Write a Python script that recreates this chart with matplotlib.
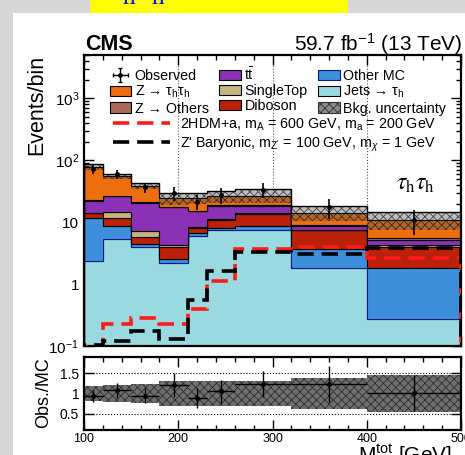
import numpy as np
import matplotlib
matplotlib.use("Agg")
import matplotlib.pyplot as plt
import matplotlib.ticker as ticker
from matplotlib.patches import Patch, Rectangle
from matplotlib.lines import Line2D

plt.rcParams["font.family"] = ["Liberation Sans", "DejaVu Sans"]
plt.rcParams["mathtext.fontset"] = "custom"
plt.rcParams["mathtext.rm"] = "Liberation Sans"
plt.rcParams["mathtext.it"] = "Liberation Sans:italic"
plt.rcParams["mathtext.bf"] = "Liberation Sans:bold"
plt.rcParams["hatch.linewidth"] = 0.6

# binning in M_tot [GeV]
bin_edges = [100, 120, 150, 180, 210, 230, 260, 320, 400, 500]

# background contributions per bin (stacked bottom -> top)
jets_tau = [2.35, 5.3, 4.0, 2.15, 5.9, 7.4, 7.4, 1.79, 0.27]
other_mc = [9.15, 3.4, 0.5, 0.35, 0.8, 0.7, 1.2, 1.88, 1.52]
diboson = [2.3, 2.8, 1.2, 1.4, 1.2, 2.7, 4.7, 3.73, 2.21]
single_top = [0.4, 3.2, 1.5, 0.35, 0.5, 0.4, 0.5, 0.2, 0.2]
ttbar = [7.8, 11.3, 13.5, 13.05, 6.6, 6.9, 4.3, 1.0, 1.0]
z_others = [0.8, 0.8, 0.6, 0.5, 0.4, 0.5, 0.5, 0.3, 0.25]
z_tautau = [54.8, 28.1, 17.3, 6.7, 8.8, 7.5, 8.3, 5.4, 5.45]

# relative background uncertainty (main panel / ratio panel)
bkg_unc = [0.111, 0.11, 0.128, 0.214, 0.2, 0.21, 0.255, 0.27, 0.315]
ratio_unc = [0.175, 0.2, 0.245, 0.3, 0.3, 0.3, 0.3, 0.375, 0.445]

observed = [72, 59, 36.5, 29.5, 21.5, 27.5, 33.5, 17.7, 11.0]
observed_err = [11.6, 9.9, 6.9, 7.4, 6.0, 7.6, 8.6, 6.3, 4.8]

# signal hypotheses
sig_2hdma = [0.095, 0.226, 0.286, 0.23, 0.39, 1.13, 3.67, 4.0, 2.6]
sig_zprime = [0.105, 0.12, 0.175, 0.128, 0.55, 1.64, 3.24, 3.05, 3.76]

components = [
    (jets_tau, "#98dadf", "black", "Jets → τ$_\\mathregular{h}$"),
    (other_mc, "#3d8fdc", "#0a1a8c", "Other MC"),
    (diboson, "#ba2108", "black", "Diboson"),
    (single_top, "#c6b47f", "black", "SingleTop"),
    (ttbar, "#8a31b6", "black", r"t$\bar{\mathregular{t}}$"),
    (z_others, "#a96b57", "black", "Z → Others"),
    (z_tautau, "#ec6e0c", "black", "Z → τ$_\\mathregular{h}$τ$_\\mathregular{h}$"),
]

edges = np.array(bin_edges, dtype=float)
centers = 0.5 * (edges[1:] + edges[:-1])
half_w = 0.5 * np.diff(edges)

W, H = 465, 455
fig = plt.figure(figsize=(W / 100, H / 100), dpi=100)
fig.patch.set_facecolor("#d6d6d6")
fig.add_artist(Rectangle((13 / W, 0), 1, 1 - 12.7 / H, transform=fig.transFigure,
                         facecolor="white", edgecolor="none", zorder=0))
fig.add_artist(Rectangle((90 / W, 1 - 12.7 / H), (348 - 90) / W, 12.7 / H,
                         transform=fig.transFigure, facecolor="#ffff00",
                         edgecolor="none", zorder=0))
fig.text(108 / W, 1 - 8 / H, r"$\tau_\mathrm{h}\tau_\mathrm{h}$", color="#1010e0",
         fontsize=26, va="bottom", ha="left", math_fontfamily="stix")

ax = fig.add_axes([84 / W, 1 - 346 / H, (461 - 84) / W, (346 - 55) / H])
rax = fig.add_axes([84 / W, 1 - 430 / H, (461 - 84) / W, (430 - 357) / H])

# stacked backgrounds
base = np.full(len(centers), 1e-3)
handles = {}
for vals, fc, ec, lab in components:
    top = base + np.array(vals)
    ax.stairs(top, edges, baseline=base, fill=True, facecolor=fc,
              edgecolor=ec, linewidth=0.8, zorder=2)
    handles[lab] = Patch(facecolor=fc, edgecolor=ec, linewidth=0.8, label=lab)
    base = top
total = base

unc = np.array(bkg_unc)
ax.stairs(total * (1 + unc), edges, baseline=total * (1 - unc), fill=True,
          facecolor=(0.35, 0.35, 0.35, 0.4), edgecolor=(0.1, 0.1, 0.1, 0.75),
          hatch="xxxx", linewidth=0, zorder=3)
ax.stairs(total * (1 + unc), edges, color="black", linewidth=1.0, zorder=3)
ax.stairs(total, edges, color="black", linewidth=0.6, zorder=3)

# signals
ax.stairs(sig_2hdma, edges, color="#ff1a1a", linewidth=2.6,
          linestyle=(0, (4.5, 2.2)), zorder=4)
ax.stairs(sig_zprime, edges, color="black", linewidth=2.6,
          linestyle=(0, (4.5, 2.2)), zorder=4)

ax.errorbar(centers, observed, yerr=observed_err, fmt="o", color="black",
            markersize=2.5, elinewidth=1.2, capsize=0, zorder=5)
obs_handle = ax.errorbar([np.nan], [np.nan], xerr=[1], yerr=[1], fmt="o",
                         color="black", markersize=2.5, elinewidth=1.0,
                         capsize=1.5)

ax.set_yscale("log")
ax.set_xlim(100, 500)
ax.set_ylim(0.1, 5000)
ax.set_yticks([0.1, 1, 10, 100, 1000])
ax.set_yticklabels(["10$^{-1}$", "1", "10", "10$^{2}$", "10$^{3}$"], fontsize=11)
ax.yaxis.set_minor_locator(ticker.LogLocator(base=10, subs=np.arange(2, 10)))
ax.yaxis.set_minor_formatter(ticker.NullFormatter())
ax.xaxis.set_major_locator(ticker.MultipleLocator(100))
ax.xaxis.set_minor_locator(ticker.MultipleLocator(20))
ax.tick_params(axis="x", labelbottom=False)
ax.set_axisbelow(True)
ax.xaxis.grid(True, which="major", linestyle=":", color="#555555", linewidth=0.8)

for a in (ax, rax):
    a.tick_params(which="both", direction="in", top=True, right=True, width=1.0)
    a.tick_params(which="major", length=7)
    a.tick_params(which="minor", length=3.5)
    for s in a.spines.values():
        s.set_linewidth(1.6)

# legends
order = [(obs_handle, "Observed"),
         (handles[components[6][3]], components[6][3]),
         (handles[components[5][3]], components[5][3]),
         (handles[components[4][3]], components[4][3]),
         (handles[components[3][3]], components[3][3]),
         (handles[components[2][3]], components[2][3]),
         (handles[components[1][3]], components[1][3]),
         (handles[components[0][3]], components[0][3]),
         (Patch(facecolor="#8a8a8a", edgecolor="#333333", hatch="xxxx",
                linewidth=0.8), "Bkg. uncertainty")]
leg1 = ax.legend([h for h, _ in order], [l for _, l in order], ncol=3,
                 loc="upper left", bbox_to_anchor=(0.068, 0.962), frameon=False,
                 fontsize=10.3, borderpad=0, borderaxespad=0, handlelength=1.5,
                 handleheight=0.7, handletextpad=0.25, columnspacing=0.75,
                 labelspacing=0.08)
ax.add_artist(leg1)
sig_handles = [Line2D([], [], color="#ff1a1a", lw=2.6, linestyle=(0, (4.5, 2.2))),
               Line2D([], [], color="black", lw=2.6, linestyle=(0, (4.5, 2.2)))]
sig_labels = [r"2HDM+a, m$_\mathregular{A}$ = 600 GeV, m$_\mathregular{a}$ = 200 GeV",
              r"Z' Baryonic, m$_\mathregular{Z'}$ = 100 GeV, m$_\chi$ = 1 GeV"]
ax.legend(sig_handles, sig_labels, loc="upper left", bbox_to_anchor=(0.077, 0.79),
          frameon=False, fontsize=10.3, borderpad=0, borderaxespad=0,
          handlelength=4.0, handletextpad=0.7, labelspacing=0.12)

ax.text(0.88, 0.555, r"$\tau_\mathrm{h}\tau_\mathrm{h}$", transform=ax.transAxes,
        fontsize=17, ha="center", va="center", math_fontfamily="stix")

# ratio panel
ratio = np.array(observed) / total
ratio_err = np.array(observed_err) / total
runc = np.array(ratio_unc)
rax.stairs(1 + runc, edges, baseline=1 - runc, fill=True, facecolor="#6f6f6f",
           edgecolor="#2e2e2e", hatch="xxxx", linewidth=0, zorder=2)
rax.errorbar(centers, ratio, xerr=half_w, yerr=ratio_err, fmt="o", color="black",
             markersize=2.5, elinewidth=1.0, capsize=0, zorder=4)
rax.set_xlim(100, 500)
rax.set_ylim(0.1, 1.9)
rax.set_yticks([0.5, 1, 1.5])
rax.set_yticklabels(["0.5", "1", "1.5"], fontsize=10)
rax.xaxis.set_major_locator(ticker.MultipleLocator(100))
rax.xaxis.set_minor_locator(ticker.MultipleLocator(20))
rax.set_xticklabels([], minor=True)
rax.tick_params(axis="x", labelsize=9, pad=2)
rax.set_axisbelow(True)
rax.yaxis.grid(True, linestyle=":", color="black", linewidth=0.8)

# labels
fig.text(37 / W, 1 - 55 / H, "Events/bin", rotation=90, ha="center", va="top",
         fontsize=15.5)
fig.text(44 / W, 1 - 393 / H, "Obs./MC", rotation=90, ha="center", va="center",
         fontsize=13)
fig.text(85 / W, 1 - 50.5 / H, "CMS", fontweight="bold", fontsize=15.5,
         va="baseline", ha="left")
fig.text(463 / W, 1 - 50.5 / H, "59.7 fb$^\\mathregular{-1}$ (13 TeV)", fontsize=15,
         va="baseline", ha="right")
fig.text(358 / W, 1 - 443 / H, r"M$^\mathregular{tot}$ [GeV]", fontsize=15,
         va="top", ha="left")

fig.savefig("out.png", dpi=100, facecolor=fig.get_facecolor())
plt.close(fig)
